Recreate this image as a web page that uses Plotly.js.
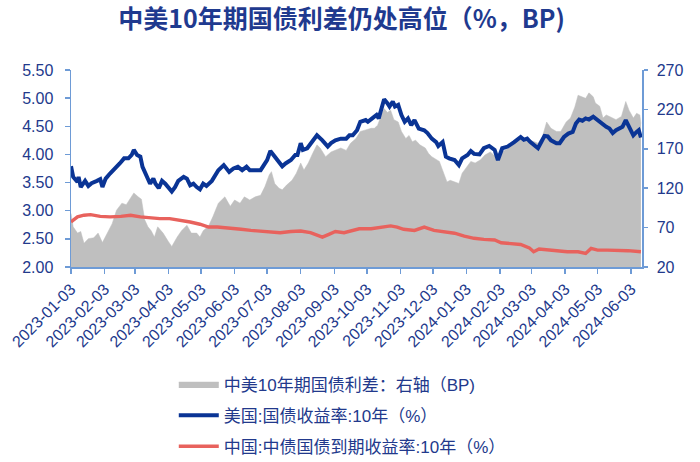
<!DOCTYPE html>
<html>
<head>
<meta charset="utf-8">
<script src="https://cdn.plot.ly/plotly-3.0.1.min.js"></script>
<style>html,body{margin:0;padding:0;background:#fff;}#chart{width:700px;height:462px;}</style>
</head>
<body>
<div id="chart"></div>
<script>
// ---- Data ----
var tickDates = ['2023-01-03','2023-02-03','2023-03-03','2023-04-03','2023-05-03','2023-06-03','2023-07-03','2023-08-03','2023-09-03','2023-10-03','2023-11-03','2023-12-03','2024-01-03','2024-02-03','2024-03-03','2024-04-03','2024-05-03','2024-06-03'];

var usDates = ['2023-01-03','2023-01-05','2023-01-09','2023-01-10','2023-01-12','2023-01-16','2023-01-19','2023-01-22','2023-01-27','2023-01-30',
'2023-02-01','2023-02-04','2023-02-08','2023-02-13','2023-02-17','2023-02-21','2023-02-25','2023-02-28',
'2023-03-02','2023-03-05','2023-03-08','2023-03-10','2023-03-14','2023-03-17','2023-03-20','2023-03-22','2023-03-25','2023-03-28','2023-03-31',
'2023-04-03','2023-04-06','2023-04-09','2023-04-12','2023-04-17','2023-04-20','2023-04-23','2023-04-26','2023-04-29',
'2023-05-02','2023-05-05','2023-05-08','2023-05-13','2023-05-16','2023-05-19','2023-05-24','2023-05-29',
'2023-06-02','2023-06-06','2023-06-10','2023-06-14','2023-06-17','2023-06-22','2023-06-27','2023-06-30',
'2023-07-03','2023-07-06','2023-07-10','2023-07-14','2023-07-17','2023-07-20','2023-07-25','2023-07-29','2023-07-31',
'2023-08-03','2023-08-05','2023-08-09','2023-08-14','2023-08-18','2023-08-23','2023-08-28','2023-08-31',
'2023-09-04','2023-09-09','2023-09-14','2023-09-17','2023-09-20','2023-09-24','2023-09-27',
'2023-10-02','2023-10-04','2023-10-08','2023-10-12','2023-10-14','2023-10-17','2023-10-19','2023-10-22','2023-10-24','2023-10-27','2023-10-29',
'2023-11-01','2023-11-04','2023-11-07','2023-11-10','2023-11-13','2023-11-16','2023-11-20','2023-11-25','2023-11-28',
'2023-12-02','2023-12-06','2023-12-08','2023-12-12','2023-12-15','2023-12-18','2023-12-23','2023-12-27','2023-12-30',
'2024-01-04','2024-01-07','2024-01-10','2024-01-15','2024-01-19','2024-01-24','2024-01-29',
'2024-02-01','2024-02-05','2024-02-10','2024-02-16','2024-02-22','2024-02-25','2024-02-28',
'2024-03-02','2024-03-05','2024-03-09','2024-03-12','2024-03-15','2024-03-18','2024-03-21','2024-03-26','2024-03-29',
'2024-04-02','2024-04-06','2024-04-10','2024-04-13','2024-04-16','2024-04-19','2024-04-22','2024-04-25','2024-04-29',
'2024-05-01','2024-05-05','2024-05-08','2024-05-11','2024-05-14','2024-05-17','2024-05-20','2024-05-23','2024-05-26','2024-05-29',
'2024-06-01','2024-06-05','2024-06-08','2024-06-10','2024-06-12'];
var usYield = [3.79,3.60,3.51,3.60,3.42,3.53,3.44,3.49,3.53,3.56,
3.42,3.57,3.66,3.75,3.84,3.93,3.93,3.99,
4.08,3.99,3.96,3.78,3.60,3.48,3.57,3.48,3.40,3.53,3.48,
3.42,3.34,3.42,3.53,3.60,3.57,3.45,3.48,3.42,
3.38,3.48,3.44,3.53,3.63,3.72,3.81,3.69,
3.75,3.78,3.72,3.78,3.72,3.72,3.72,3.81,
3.90,4.06,3.96,3.84,3.79,3.84,3.90,3.99,3.99,
4.20,4.08,4.11,4.25,4.34,4.25,4.14,4.20,
4.25,4.28,4.28,4.34,4.34,4.43,4.58,
4.61,4.58,4.64,4.70,4.64,4.85,4.98,4.91,4.85,4.94,4.85,
4.88,4.70,4.58,4.64,4.52,4.61,4.46,4.43,4.38,
4.28,4.22,4.15,4.22,3.96,3.93,3.90,3.81,3.93,
3.99,4.06,4.01,4.00,4.11,4.15,4.08,
3.90,4.11,4.14,4.22,4.31,4.26,4.28,
4.22,4.17,4.11,4.22,4.33,4.32,4.25,4.20,4.20,
4.31,4.37,4.40,4.55,4.62,4.60,4.64,4.62,4.67,
4.64,4.58,4.52,4.49,4.46,4.38,4.43,4.46,4.49,4.61,
4.49,4.34,4.40,4.43,4.30];

var cnDates = ['2023-01-03','2023-01-09','2023-01-15','2023-01-21','2023-01-30','2023-02-08','2023-02-18','2023-02-27','2023-03-08','2023-03-17','2023-03-26',
'2023-04-04','2023-04-14','2023-04-23','2023-05-02','2023-05-10','2023-05-18','2023-05-30','2023-06-09','2023-06-18','2023-06-27',
'2023-07-06','2023-07-15','2023-07-25','2023-08-03','2023-08-12','2023-08-18','2023-08-23','2023-08-29','2023-09-04','2023-09-12','2023-09-18','2023-09-26',
'2023-10-07','2023-10-16','2023-10-25','2023-10-31','2023-11-06','2023-11-16','2023-11-25','2023-12-04','2023-12-13','2023-12-23',
'2024-01-01','2024-01-10','2024-01-19','2024-01-29','2024-02-04','2024-02-13','2024-02-22','2024-03-01','2024-03-05','2024-03-10','2024-03-18','2024-03-27',
'2024-04-05','2024-04-15','2024-04-22','2024-04-27','2024-05-03','2024-05-12','2024-05-22','2024-05-31','2024-06-12'];
var cnYield = [2.80,2.89,2.92,2.93,2.90,2.89,2.90,2.92,2.89,2.87,2.86,
2.86,2.83,2.80,2.76,2.71,2.71,2.68,2.67,2.65,2.64,
2.63,2.61,2.63,2.64,2.61,2.56,2.53,2.58,2.63,2.61,2.64,2.68,
2.68,2.71,2.73,2.71,2.67,2.65,2.71,2.65,2.63,2.60,
2.55,2.51,2.49,2.48,2.43,2.42,2.40,2.34,2.27,2.32,2.30,2.29,
2.27,2.27,2.24,2.33,2.30,2.30,2.30,2.29,2.27];

var spreadDates = ['2023-01-03','2023-01-05','2023-01-09','2023-01-12','2023-01-15','2023-01-19','2023-01-24','2023-01-28',
'2023-02-01','2023-02-05','2023-02-10','2023-02-14','2023-02-19','2023-02-23','2023-02-28',
'2023-03-02','2023-03-06','2023-03-09','2023-03-12','2023-03-15','2023-03-18','2023-03-21','2023-03-24','2023-03-29',
'2023-04-03','2023-04-06','2023-04-11','2023-04-15','2023-04-20','2023-04-24','2023-04-29',
'2023-05-02','2023-05-05','2023-05-10','2023-05-14','2023-05-19','2023-05-25','2023-05-30',
'2023-06-03','2023-06-08','2023-06-12','2023-06-17','2023-06-22','2023-06-27',
'2023-07-01','2023-07-05','2023-07-07','2023-07-10','2023-07-14','2023-07-17','2023-07-21','2023-07-26','2023-07-30',
'2023-08-03','2023-08-06','2023-08-10','2023-08-14','2023-08-18','2023-08-21','2023-08-26','2023-08-31',
'2023-09-04','2023-09-09','2023-09-14','2023-09-18','2023-09-23','2023-09-27',
'2023-10-02','2023-10-07','2023-10-10','2023-10-13','2023-10-16','2023-10-19','2023-10-22','2023-10-25','2023-10-28',
'2023-11-01','2023-11-04','2023-11-08','2023-11-11','2023-11-14','2023-11-17','2023-11-21','2023-11-26','2023-11-29',
'2023-12-02','2023-12-06','2023-12-09','2023-12-13','2023-12-16','2023-12-19','2023-12-23','2023-12-27','2023-12-30',
'2024-01-02','2024-01-07','2024-01-11','2024-01-16','2024-01-20','2024-01-25','2024-01-30',
'2024-02-02','2024-02-05','2024-02-10','2024-02-15','2024-02-19','2024-02-25',
'2024-03-02','2024-03-09','2024-03-13','2024-03-17','2024-03-21','2024-03-26','2024-03-30',
'2024-04-04','2024-04-08','2024-04-12','2024-04-15','2024-04-19','2024-04-22','2024-04-25','2024-04-29',
'2024-05-01','2024-05-05','2024-05-08','2024-05-11','2024-05-14','2024-05-17','2024-05-20','2024-05-25','2024-05-29',
'2024-06-01','2024-06-05','2024-06-08','2024-06-11','2024-06-12'];
var spreadBP = [88,71,63,65,50,56,57,63,
51,61,75,92,101,99,109,
114,109,106,80,71,66,58,71,63,
52,46,58,66,73,63,63,
58,66,72,84,101,109,97,
105,101,109,105,109,111,
122,137,141,126,120,118,124,130,139,
152,143,152,164,175,171,160,166,
168,171,168,177,183,192,
194,196,196,200,211,221,216,219,207,
204,192,183,187,179,181,175,171,164,
160,156,154,139,128,130,128,126,139,
145,154,152,156,162,166,160,
154,166,171,175,181,183,
181,177,185,204,196,192,192,
204,209,223,238,236,234,241,236,
228,224,209,213,211,209,207,211,230,
219,209,215,213,202];

var seriesNames = ['中美10年期国债利差：右轴（BP)','美国:国债收益率:10年（%）','中国:中债国债到期收益率:10年（%）'];

// ---- Styling ----
var navy = '#22398c';
var axisBlue = '#6e9bd6';
var baseFont = 'Liberation Sans, Arial, Noto Sans CJK SC, sans-serif';

var traces = [
  {x: spreadDates, y: spreadBP, name: seriesNames[0], type: 'scatter', mode: 'lines',
   fill: 'tozeroy', fillcolor: '#bfbfbf', line: {color: '#bfbfbf', width: 0.5},
   yaxis: 'y', legendgroup: 'a'},
  {x: usDates, y: usYield, name: seriesNames[1], type: 'scatter', mode: 'lines',
   line: {color: '#0a3495', width: 4}, yaxis: 'y2', legendgroup: 'b'},
  {x: cnDates, y: cnYield, name: seriesNames[2], type: 'scatter', mode: 'lines',
   line: {color: '#e8625d', width: 3.4}, yaxis: 'y2', legendgroup: 'c'}
];

var layout = {
  width: 700, height: 462,
  margin: {l: 71, r: 58, t: 70, b: 195, autoexpand: false},
  paper_bgcolor: '#ffffff', plot_bgcolor: '#ffffff',
  font: {family: baseFont, color: navy},
  title: {text: '中美10年期国债利差仍处高位（%，BP)', automargin: false,
          font: {family: 'Noto Sans CJK SC, sans-serif', size: 25, color: '#1f3a8f', weight: 'bold'},
          x: 0.488, xref: 'container', xanchor: 'center', y: 0.958, yref: 'container', yanchor: 'middle'},
  showlegend: true,
  legend: {orientation: 'v', x: 0.18, xanchor: 'left', y: -0.505, yanchor: 'top',
           font: {family: baseFont, size: 17, color: navy}, bgcolor: 'rgba(0,0,0,0)',
           traceorder: 'grouped', tracegroupgap: 6, itemwidth: 40},
  xaxis: {type: 'date', range: ['2023-01-03', '2024-06-13'], automargin: false,
          tickmode: 'array', tickvals: tickDates, ticktext: tickDates,
          tickangle: -45, tickfont: {size: 16, color: navy, family: baseFont},
          showline: true, linecolor: axisBlue, linewidth: 1.5,
          ticks: 'outside', ticklen: 5, tickcolor: axisBlue, tickwidth: 1.5,
          showgrid: false, zeroline: false},
  yaxis: {side: 'right', range: [20, 270], tick0: 20, dtick: 50, automargin: false,
          tickfont: {size: 16, color: navy, family: baseFont},
          showline: true, linecolor: axisBlue, linewidth: 1.5,
          ticks: 'outside', ticklen: 4, tickcolor: axisBlue, tickwidth: 1.5,
          ticklabelstandoff: 6,
          showgrid: false, zeroline: false},
  yaxis2: {overlaying: 'y', side: 'left', range: [2, 5.5], tick0: 2, dtick: 0.5, tickformat: '.2f', automargin: false,
          tickfont: {size: 16, color: navy, family: baseFont},
          showline: true, linecolor: axisBlue, linewidth: 1.5,
          ticks: 'outside', ticklen: 5, tickcolor: axisBlue, tickwidth: 1.5,
          ticklabelstandoff: 8,
          showgrid: false, zeroline: false}
};

Plotly.newPlot('chart', traces, layout, {staticPlot: true, displayModeBar: false});
</script>
</body>
</html>
